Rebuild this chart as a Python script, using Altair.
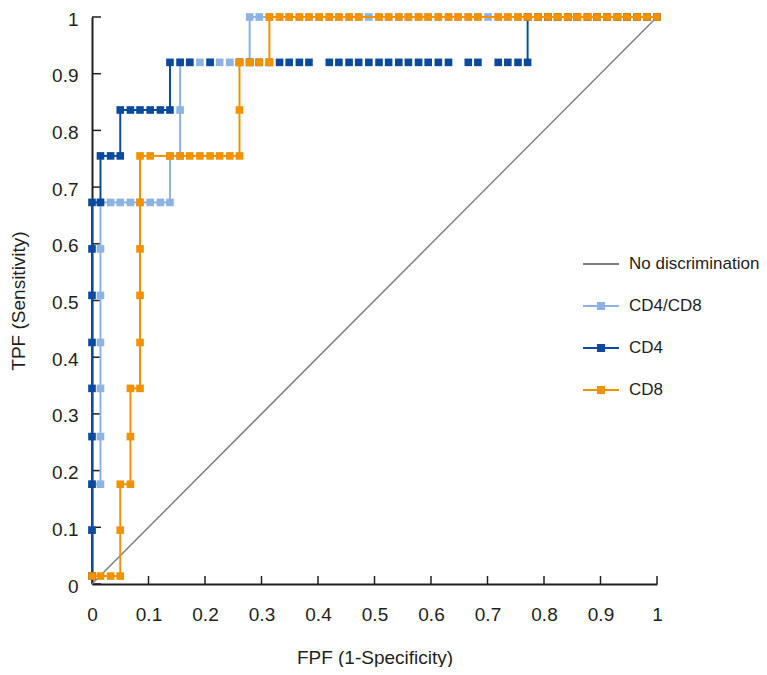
import altair as alt
import pandas as pd

# ---------------- data ----------------
series_names = ["No discrimination", "CD4/CD8", "CD4", "CD8"]
series_colors = ["#808080", "#8db3e2", "#0b4a9c", "#f39200"]

tick_values = [0, 0.1, 0.2, 0.3, 0.4, 0.5, 0.6, 0.7, 0.8, 0.9, 1]

diag_fpf = [0, 1]
diag_tpf = [0, 1]

# rows of the step curves: (TPF level, FPF positions of the markers on that level), in path order
cd48_rows = [
    (0.014, [0]),
    (0.095, [0]),
    (0.176, [0, 0.015]),
    (0.26, [0.015]),
    (0.345, [0.015]),
    (0.426, [0.015]),
    (0.509, [0.015]),
    (0.591, [0.015]),
    (0.673, [0.015, 0.033, 0.050, 0.068, 0.085, 0.103, 0.121, 0.138]),
    (0.755, [0.138, 0.156]),
    (0.836, [0.156]),
    (0.92, [0.156, 0.173, 0.191, 0.209, 0.226, 0.244, 0.261, 0.279]),
    (1.0, [0.279, 0.296, 0.314, 0.332, 0.349, 0.367, 0.384, 0.402, 0.420, 0.437,
           0.455, 0.472, 0.490, 0.508, 0.525, 0.543, 0.560, 0.578, 0.595, 0.613,
           0.631, 0.648, 0.666, 0.683, 0.701, 0.719, 0.736, 0.754, 0.771, 0.789,
           0.807, 0.824, 0.842, 0.859, 0.877, 0.894, 0.912, 0.930, 0.947, 0.965,
           0.982, 1.0]),
]

cd4_rows = [
    (0.014, [0]),
    (0.095, [0]),
    (0.176, [0]),
    (0.26, [0]),
    (0.345, [0]),
    (0.426, [0]),
    (0.509, [0]),
    (0.591, [0]),
    (0.673, [0, 0.015]),
    (0.755, [0.015, 0.033, 0.050]),
    (0.836, [0.050, 0.068, 0.085, 0.103, 0.121, 0.138]),
    (0.92, [0.138, 0.156, 0.173, 0.209, 0.261, 0.279, 0.296, 0.314, 0.332, 0.349,
            0.367, 0.384, 0.420, 0.437, 0.455, 0.472, 0.490, 0.508, 0.525, 0.543,
            0.560, 0.578, 0.595, 0.613, 0.631, 0.666, 0.683, 0.719, 0.736, 0.754,
            0.771]),
    (1.0, [0.771, 0.789, 0.807, 0.824, 0.842, 0.859, 0.877, 0.894, 0.912, 0.930,
           0.947, 0.965, 0.982, 1.0]),
]

cd8_rows = [
    (0.014, [0, 0.015, 0.033, 0.050]),
    (0.095, [0.050]),
    (0.176, [0.050, 0.068]),
    (0.26, [0.068]),
    (0.345, [0.068, 0.085]),
    (0.426, [0.085]),
    (0.509, [0.085]),
    (0.591, [0.085]),
    (0.673, [0.085]),
    (0.755, [0.085, 0.103, 0.138, 0.156, 0.173, 0.191, 0.209, 0.226, 0.244, 0.261]),
    (0.836, [0.261]),
    (0.92, [0.261, 0.279, 0.296, 0.314]),
    (1.0, [0.314, 0.332, 0.349, 0.367, 0.384, 0.402, 0.420, 0.437, 0.455, 0.472,
           0.508, 0.525, 0.543, 0.560, 0.578, 0.595, 0.613, 0.631, 0.648, 0.666,
           0.683, 0.719, 0.736, 0.754, 0.771, 0.789, 0.807, 0.824, 0.842, 0.859,
           0.877, 0.894, 0.912, 0.930, 0.947, 0.965, 0.982, 1.0]),
]

# horizontal runs at this level show markers only (no connecting line) in the reference
markers_only_level = 0.92

# ---------------- styling ----------------
FONT = "Liberation Sans, Arial, sans-serif"
TEXT = "#231f20"
FS = 19
LEG_FS = 17
PLOT_W, PLOT_H = 565, 567


def points(rows, name):
    recs = []
    for tpf, xs in rows:
        for x in xs:
            recs.append({"series": name, "fpf": x, "tpf": tpf})
    return recs


def segments(recs):
    segs = []
    for a, b in zip(recs[:-1], recs[1:]):
        if a["tpf"] == b["tpf"] == markers_only_level:
            continue
        segs.append({"series": a["series"], "fpf": a["fpf"], "tpf": a["tpf"],
                     "fpf2": b["fpf"], "tpf2": b["tpf"]})
    return segs


xscale = alt.Scale(domain=[0, 1], nice=False, zero=False)
yscale = alt.Scale(domain=[0, 1], nice=False, zero=False)

x_axis = alt.Axis(
    values=tick_values, format="~g", ticks=False, tickSize=0, grid=False,
    domainColor=TEXT, domainWidth=2, labelFont=FONT, labelFontSize=FS,
    labelColor=TEXT, labelPadding=21, labelFlush=False,
    title="FPF (1-Specificity)", titleFont=FONT, titleFontSize=FS,
    titleFontWeight="normal", titleColor=TEXT, titleBaseline="alphabetic",
    titleY=79,
)
y_axis = alt.Axis(
    values=tick_values, format="~g", ticks=False, tickSize=0, grid=False,
    domainColor=TEXT, domainWidth=2, labelFont=FONT, labelFontSize=FS,
    labelColor=TEXT, labelPadding=14, labelFlush=False, labelOffset=2,
    title="TPF (Sensitivity)", titleFont=FONT, titleFontSize=FS,
    titleFontWeight="normal", titleColor=TEXT, titleBaseline="alphabetic",
    titleAngle=270, titleX=-68, titleY=PLOT_H / 2,
)


def X(f="fpf"):
    return alt.X(f"{f}:Q", scale=xscale, axis=x_axis)


def Y(f="tpf"):
    return alt.Y(f"{f}:Q", scale=yscale, axis=y_axis)


color_of = dict(zip(series_names, series_colors))
layers = []

# inward tick marks
ticks_df = pd.DataFrame({"fpf": tick_values, "tpf": tick_values})
layers.append(alt.Chart(ticks_df).mark_rule(color=TEXT, strokeWidth=1.5).encode(
    x=X(), y=alt.value(PLOT_H), y2=alt.value(PLOT_H - 8)))
layers.append(alt.Chart(ticks_df).mark_rule(color=TEXT, strokeWidth=1.5).encode(
    y=Y(), x=alt.value(0), x2=alt.value(9)))

# diagonal (no discrimination)
diag_df = pd.DataFrame({"fpf": [diag_fpf[0]], "tpf": [diag_tpf[0]],
                        "fpf2": [diag_fpf[1]], "tpf2": [diag_tpf[1]]})
layers.append(alt.Chart(diag_df).mark_rule(strokeWidth=1.5, color=color_of["No discrimination"]).encode(
    x=X(), y=Y(), x2="fpf2:Q", y2="tpf2:Q"))

for rows, name in [(cd48_rows, "CD4/CD8"), (cd4_rows, "CD4"), (cd8_rows, "CD8")]:
    recs = points(rows, name)
    seg_df = pd.DataFrame(segments(recs))
    pt_df = pd.DataFrame(recs)
    layers.append(alt.Chart(seg_df).mark_rule(strokeWidth=2, color=color_of[name]).encode(
        x=X(), y=Y(), x2="fpf2:Q", y2="tpf2:Q"))
    layers.append(alt.Chart(pt_df).mark_square(size=58, opacity=1, color=color_of[name]).encode(
        x=X(), y=Y()))

# legend layer (its points sit off-canvas; only the legend shows)
line_path = "M-1,0H1"
line_sq_path = "M-1,0H1M-0.17,-0.17H0.17V0.17H-0.17Z"
leg = alt.Legend(title=None, orient="none", legendX=490, legendY=228,
                 symbolSize=1296, symbolStrokeWidth=2, symbolOpacity=1,
                 labelFont=FONT, labelFontSize=LEG_FS, labelColor=TEXT,
                 labelOffset=9, rowPadding=15, padding=0, labelLimit=300)
leg_df = pd.DataFrame({"series": series_names})
layers.append(alt.Chart(leg_df).mark_point(filled=True, opacity=1).encode(
    x=alt.value(-500), y=alt.value(-500),
    fill=alt.Fill("series:N", scale=alt.Scale(domain=series_names, range=series_colors), legend=leg),
    stroke=alt.Stroke("series:N", scale=alt.Scale(domain=series_names, range=series_colors), legend=leg),
    shape=alt.Shape("series:N", scale=alt.Scale(domain=series_names,
                    range=[line_path, line_sq_path, line_sq_path, line_sq_path]), legend=leg),
))

chart = alt.layer(*layers).properties(
    width=PLOT_W, height=PLOT_H,
    autosize=alt.AutoSizeParams(type="none"),
    padding={"left": 84, "top": 9, "right": 102, "bottom": 83},
).configure_view(stroke=None)

chart.save("out.html", embed_options={"renderer": "svg", "actions": False})
